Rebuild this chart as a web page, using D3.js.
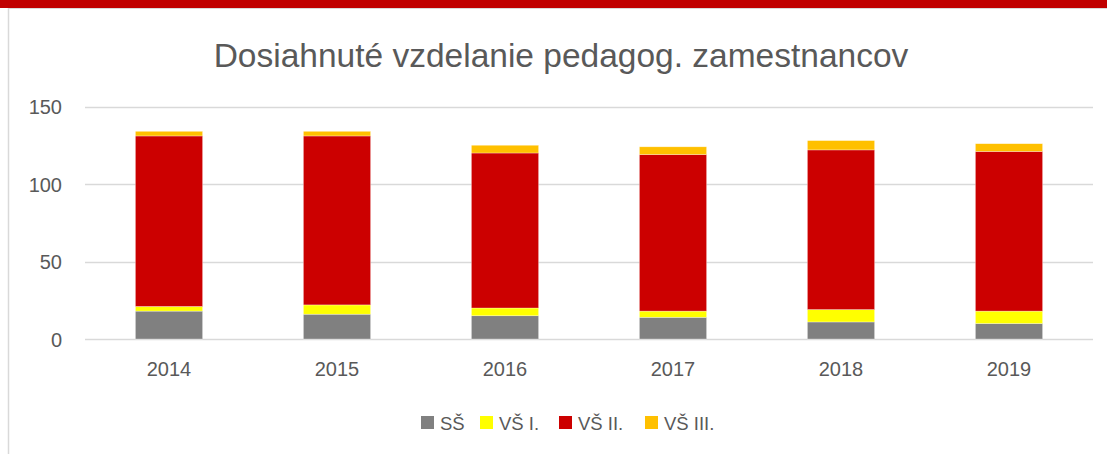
<!DOCTYPE html>
<html>
<head>
<meta charset="utf-8">
<script src="https://cdn.jsdelivr.net/npm/d3@7/dist/d3.min.js"></script>
<style>
  body { margin: 0; background: #fff; }
  text { font-family: "Liberation Sans", Arial, sans-serif; fill: #595959; }
</style>
</head>
<body>
<div id="chart"></div>
<script>
// data
var years = ["2014", "2015", "2016", "2017", "2018", "2019"];
var series = ["SŠ", "VŠ I.", "VŠ II.", "VŠ III."];
var ss    = [18, 16, 15, 14, 11, 10];
var vs1   = [3, 6, 5, 4, 8, 8];
var vs2   = [110, 109, 100, 101, 103, 103];
var vs3   = [3, 3, 5, 5, 6, 5];
var yTicks = [0, 50, 100, 150];
var colors = ["#808080", "#FFFF00", "#CC0000", "#FFC000"];

var width = 1107, height = 454;
var plotLeft = 85, plotRight = 1093, plotTop = 106.5, plotBottom = 339;

// build rows for d3.stack
var rows = years.map(function (y, i) {
  return { year: y, "SŠ": ss[i], "VŠ I.": vs1[i], "VŠ II.": vs2[i], "VŠ III.": vs3[i] };
});
var stacked = d3.stack().keys(series)(rows);

var svg = d3.select("#chart").append("svg")
  .attr("width", width)
  .attr("height", height);

// top band and frame
svg.append("rect").attr("x", 0).attr("y", 0).attr("width", width).attr("height", 8).attr("fill", "#C00000");
svg.append("line").attr("x1", 8).attr("x2", width).attr("y1", 8.5).attr("y2", 8.5)
  .attr("stroke", "#d9d9d9").attr("stroke-width", 1);
svg.append("line").attr("x1", 8.5).attr("x2", 8.5).attr("y1", 8).attr("y2", height)
  .attr("stroke", "#d9d9d9").attr("stroke-width", 1.5);

var xScale = d3.scaleBand()
  .domain(years)
  .range([plotLeft, plotRight])
  .paddingInner(0.6)
  .paddingOuter(0.3);

var yScale = d3.scaleLinear()
  .domain([0, 150])
  .range([plotBottom, plotTop]);

// gridlines
svg.append("g")
  .selectAll("line")
  .data(yTicks)
  .enter().append("line")
  .attr("x1", plotLeft).attr("x2", plotRight)
  .attr("y1", function (d) { return Math.round(yScale(d)) + 0.5; })
  .attr("y2", function (d) { return Math.round(yScale(d)) + 0.5; })
  .attr("stroke", "#d9d9d9")
  .attr("stroke-width", 1.5);

// y axis labels
var yAxis = svg.append("g")
  .attr("transform", "translate(" + (plotLeft - 23) + ",0)")
  .call(d3.axisLeft(yScale).tickValues(yTicks).tickSize(0).tickPadding(0));
yAxis.select(".domain").remove();
yAxis.selectAll("text").attr("font-size", "20px").attr("dy", "0.35em").style("font-family", null);

// x axis labels
var xAxis = svg.append("g")
  .attr("transform", "translate(0," + plotBottom + ")")
  .call(d3.axisBottom(xScale).tickSize(0).tickPadding(23));
xAxis.select(".domain").remove();
xAxis.selectAll("text").attr("font-size", "20px").style("font-family", null);

// bars
svg.append("g")
  .selectAll("g")
  .data(stacked)
  .enter().append("g")
  .attr("fill", function (d, i) { return colors[i]; })
  .selectAll("rect")
  .data(function (d) { return d; })
  .enter().append("rect")
  .attr("x", function (d) { return xScale(d.data.year); })
  .attr("width", xScale.bandwidth())
  .attr("y", function (d) { return yScale(d[1]); })
  .attr("height", function (d) { return yScale(d[0]) - yScale(d[1]); })
  .attr("stroke", "#ffffff")
  .attr("stroke-opacity", 0.5)
  .attr("stroke-width", 0.6);

// title
svg.append("text")
  .attr("x", 561)
  .attr("y", 67)
  .attr("text-anchor", "middle")
  .attr("font-size", "33.5px")
  .text("Dosiahnuté vzdelanie pedagog. zamestnancov");

// legend
var legendX = [421, 480, 559, 645];
var legend = svg.selectAll(".legend")
  .data(series)
  .enter().append("g")
  .attr("class", "legend")
  .attr("transform", function (d, i) { return "translate(" + legendX[i] + ",416)"; });

legend.append("rect")
  .attr("width", 13)
  .attr("height", 13)
  .attr("fill", function (d, i) { return colors[i]; });

legend.append("text")
  .attr("x", 19)
  .attr("y", 13.5)
  .attr("font-size", "18.5px")
  .text(function (d) { return d; });
</script>
</body>
</html>
